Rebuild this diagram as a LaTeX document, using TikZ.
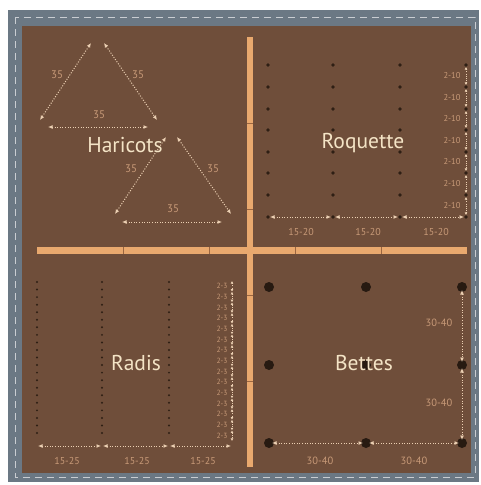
\documentclass[tikz,border=0pt]{standalone}
\usepackage{fontspec}
\setmainfont{PT Sans}
\usetikzlibrary{arrows.meta}
\definecolor{framec}{HTML}{6B7884}
\definecolor{stitch}{HTML}{C9CDD2}
\definecolor{soil}{HTML}{6F4E3A}
\definecolor{bamboo}{HTML}{E9A96E}
\definecolor{joint}{HTML}{9B6640}
\definecolor{titlec}{HTML}{F4E4C6}
\definecolor{labc}{HTML}{C89A78}
\definecolor{arrowc}{HTML}{EBCFB2}
\definecolor{seed}{HTML}{2E1F14}
\begin{document}
\begin{tikzpicture}[x=1pt,y=-1pt,
  dim/.style={draw=arrowc, line width=1pt, dash pattern=on 1pt off 1.6pt,
    {Latex[length=4.5pt,width=4pt]}-{Latex[length=4.5pt,width=4pt]}},
  smalldim/.style={draw=arrowc, line width=0.8pt, dash pattern=on 0.8pt off 1.3pt,
    {Latex[length=2.6pt,width=2.8pt]}-{Latex[length=2.6pt,width=2.8pt]}},
  lab/.style={text=labc, font=\fontsize{10}{10}\selectfont, inner sep=0},
  title/.style={text=titlec, font=\fontsize{21.5}{21.5}\selectfont, inner sep=0},
  tinyseed/.style={circle, fill=seed, inner sep=0, minimum size=2.2pt},
  smallseed/.style={circle, fill=seed, inner sep=0, minimum size=3.6pt},
  bigseed/.style={circle, fill=seed!85!black, inner sep=0, minimum size=10pt},
  bar/.style={fill=bamboo},
  seam/.style={draw=joint, line width=0.8pt}
]
\useasboundingbox (0,0) rectangle (481,485);
% frame
\fill[framec] (8,10) rectangle (479,482);
\draw[stitch, line width=1pt, dash pattern=on 7pt off 5pt] (15,17) rectangle (475,477);
\fill[soil] (22,26) rectangle (471,473);
% bamboo cross
\fill[bar] (37,247) rectangle (467,254);
\fill[bar] (247,37) rectangle (253,467);
\foreach \p in {123,209,381}{
  \draw[seam] (\p,247) -- (\p,254);
  \draw[seam] (247,\p) -- (253,\p);
}
\draw[seam] (295,247) -- (295,254);
\draw[seam] (247,295) -- (253,295);

% ---------- Haricots ----------
\coordinate (t1al) at (91,43);
\coordinate (t1ar) at (104,43);
\coordinate (t1l) at (40,120);
\coordinate (t1r) at (157,120);
\coordinate (t1bl) at (48,127);
\coordinate (t1br) at (148,127);
\draw[dim] (t1al) -- (t1l);
\draw[dim] (t1ar) -- (t1r);
\draw[dim] (t1bl) -- (t1br);
\node[lab, font=\fontsize{11}{11}\selectfont] (h1) at (57,75) {35};
\node[lab, font=\fontsize{11}{11}\selectfont] (h2) at (138,75) {35};
\node[lab, font=\fontsize{11}{11}\selectfont] (h3) at (99,115) {35};

\coordinate (t2al) at (166,137);
\coordinate (t2ar) at (177,137);
\coordinate (t2l) at (115,214);
\coordinate (t2r) at (231,214);
\coordinate (t2bl) at (122,222);
\coordinate (t2br) at (222,222);
\draw[dim] (t2al) -- (t2l);
\draw[dim] (t2ar) -- (t2r);
\draw[dim] (t2bl) -- (t2br);
\node[lab, font=\fontsize{11}{11}\selectfont] (h4) at (131,169) {35};
\node[lab, font=\fontsize{11}{11}\selectfont] (h5) at (213,169) {35};
\node[lab, font=\fontsize{11}{11}\selectfont] (h6) at (173,209) {35};
\node[title] (haricots) at (125,145) {Haricots};

% ---------- Roquette ----------
\foreach \c/\x in {1/268,2/333,3/400,4/466}{
  \foreach \r/\y in {1/65,2/87,3/109,4/130,5/152,6/173,7/195,8/217}{
    \node[smallseed] (r-\c-\r) at (\x,\y) {};
  }
}
\draw[dim] (r-1-8) -- (r-2-8);
\draw[dim] (r-2-8) -- (r-3-8);
\draw[dim] (r-3-8) -- (r-4-8);
\foreach \r [evaluate=\r as \n using int(\r+1)] in {1,...,7}{
  \draw[smalldim] (r-4-\r) -- (r-4-\n);
}
\foreach \r/\y in {1/76,2/98,3/119,4/141,5/162,6/184,7/206}{
  \node[lab, font=\fontsize{8.5}{8.5}\selectfont] (q-\r) at (452,\y) {2-10};
}
\node[lab] (q15a) at (301,232) {15-20};
\node[lab] (q15b) at (368,232) {15-20};
\node[lab] (q15c) at (436,232) {15-20};
\node[title] (roquette) at (363,143) {Roquette};

% ---------- Radis ----------
\foreach \c/\x in {1/37,2/102,3/169}{
  \foreach \k in {0,...,20}{
    \node[tinyseed] (d-\c-\k) at (\x,282+\k*7.55) {};
  }
}
\foreach \k in {0,...,15}{
  \coordinate (v-\k) at (232,281+\k*10.67);
}
\foreach \k [evaluate=\k as \n using int(\k+1)] in {0,...,14}{
  \draw[smalldim] (v-\k) -- (v-\n);
  \node[lab, font=\fontsize{7.5}{7.5}\selectfont] (z-\k) at (222,286.3+\k*10.67) {2-3};
}
\coordinate (g1) at (37,446);
\coordinate (g2) at (102,446);
\coordinate (g3) at (169,446);
\coordinate (g4) at (232,446);
\draw[dim, shorten <=1pt, shorten >=1pt] (g1) -- (g2);
\draw[dim, shorten <=1pt, shorten >=1pt] (g2) -- (g3);
\draw[dim, shorten <=1pt, shorten >=1pt] (g3) -- (g4);
\node[lab] (s1) at (67,461) {15-25};
\node[lab] (s2) at (137,461) {15-25};
\node[lab] (s3) at (203,461) {15-25};
\node[title] (radis) at (136,363) {Radis};

% ---------- Bettes ----------
\foreach \c/\x in {1/269,2/366,3/462}{
  \foreach \r/\y in {1/287,2/365,3/443}{
    \node[bigseed] (b-\c-\r) at (\x,\y) {};
  }
}
\node[title] (bettes) at (364,363) {Bettes};
\draw[dim, shorten <=3pt, shorten >=3pt] (b-3-1.center) -- (b-3-2.center);
\draw[dim, shorten <=3pt, shorten >=3pt] (b-3-2.center) -- (b-3-3.center);
\draw[dim, shorten <=3pt, shorten >=3pt] (b-1-3.center) -- (b-2-3.center);
\draw[dim, shorten <=3pt, shorten >=3pt] (b-2-3.center) -- (b-3-3.center);
\node[lab, font=\fontsize{10.5}{10.5}\selectfont] (e1) at (439,323) {30-40};
\node[lab, font=\fontsize{10.5}{10.5}\selectfont] (e2) at (439,403) {30-40};
\node[lab, font=\fontsize{10.5}{10.5}\selectfont] (e3) at (320,461) {30-40};
\node[lab, font=\fontsize{10.5}{10.5}\selectfont] (e4) at (414,461) {30-40};
\end{tikzpicture}
\end{document}
